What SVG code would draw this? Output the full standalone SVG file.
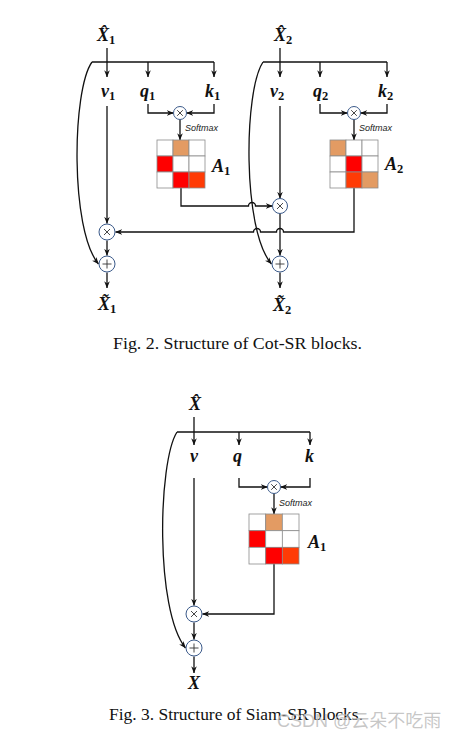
<svg xmlns="http://www.w3.org/2000/svg" width="459" height="740" viewBox="0 0 459 740">
<style>
.ln{fill:none;stroke:#111;stroke-width:1.3}
.op{fill:#fff;stroke:#3b5a8a;stroke-width:1}
.sym{fill:none;stroke:#333;stroke-width:0.9}
.cell{stroke:#8c8c8c;stroke-width:0.8}
.w{fill:#fff}.o{fill:#E39B63}.r{fill:#FF0000}.rr{fill:#FF3B05}
.m{font-family:"Liberation Serif","DejaVu Serif",serif;font-weight:bold;font-style:italic;font-size:18px;fill:#111}
.sub{font-style:normal;font-size:12.5px}
.sm{font-family:"Liberation Sans",sans-serif;font-style:italic;font-size:9px;fill:#222}
.cap{font-family:"Liberation Serif","Times New Roman",serif;font-size:16px;fill:#111}
.wm{font-family:"Liberation Sans","Noto Sans CJK SC",sans-serif;font-size:18px;fill:#bdbdbd;fill-opacity:0.85}
</style>
<defs>
<marker id="ah" viewBox="0 0 10 10" refX="9.5" refY="5" markerWidth="7" markerHeight="7" orient="auto" markerUnits="userSpaceOnUse">
<path d="M0,1 L10,5 L0,9 L3,5 z" fill="#111"/>
</marker>
</defs>

<g id="connectors">
<!-- block 1 -->
<path class="ln" d="M107,48 V77" marker-end="url(#ah)"/>
<path class="ln" d="M92,62 H214"/>
<path class="ln" d="M148,62 V77" marker-end="url(#ah)"/>
<path class="ln" d="M214,62 V77" marker-end="url(#ah)"/>
<path class="ln" d="M92,62 C72,90 70,230 98.5,264" marker-end="url(#ah)"/>
<path class="ln" d="M107,106 V223.5" marker-end="url(#ah)"/>
<path class="ln" d="M148,104 V113 H173.5" marker-end="url(#ah)"/>
<path class="ln" d="M214,104 V113 H186.5" marker-end="url(#ah)"/>
<path class="ln" d="M180,119.5 V140" marker-end="url(#ah)"/>
<path class="ln" d="M107,240.5 V255.5" marker-end="url(#ah)"/>
<path class="ln" d="M107,272.5 V288" marker-end="url(#ah)"/>
<path class="ln" d="M181,188 V206 H248.5 a3.5,3.5 0 0 1 7,0 H272.5" marker-end="url(#ah)"/>
<path class="ln" d="M354,188 V232 H283.5 a3.5,3.5 0 0 0 -7,0 H260.5 a3.5,3.5 0 0 0 -7,0 H115.5" marker-end="url(#ah)"/>
<!-- block 2 -->
<path class="ln" d="M280,48 V77" marker-end="url(#ah)"/>
<path class="ln" d="M263,62 H387"/>
<path class="ln" d="M320,62 V77" marker-end="url(#ah)"/>
<path class="ln" d="M387,62 V77" marker-end="url(#ah)"/>
<path class="ln" d="M263,62 C244,90 242,230 271.5,264" marker-end="url(#ah)"/>
<path class="ln" d="M280,106 V198.5" marker-end="url(#ah)"/>
<path class="ln" d="M320,104 V113 H347.5" marker-end="url(#ah)"/>
<path class="ln" d="M387,104 V113 H360.5" marker-end="url(#ah)"/>
<path class="ln" d="M354,119.5 V140" marker-end="url(#ah)"/>
<path class="ln" d="M280,213.5 V255.5" marker-end="url(#ah)"/>
<path class="ln" d="M280,272.5 V288" marker-end="url(#ah)"/>
<!-- block 3 -->
<path class="ln" d="M194,417 V445" marker-end="url(#ah)"/>
<path class="ln" d="M177,432 H310"/>
<path class="ln" d="M239,432 V445" marker-end="url(#ah)"/>
<path class="ln" d="M310,432 V445" marker-end="url(#ah)"/>
<path class="ln" d="M177,432 C158,462 155,610 185.5,648" marker-end="url(#ah)"/>
<path class="ln" d="M194,478 V605.5" marker-end="url(#ah)"/>
<path class="ln" d="M239,478 V487 H267.5" marker-end="url(#ah)"/>
<path class="ln" d="M310,478 V487 H280.5" marker-end="url(#ah)"/>
<path class="ln" d="M274,493.5 V514" marker-end="url(#ah)"/>
<path class="ln" d="M274,564 V614 H202.5" marker-end="url(#ah)"/>
<path class="ln" d="M194,622.5 V639.5" marker-end="url(#ah)"/>
<path class="ln" d="M194,656.5 V673" marker-end="url(#ah)"/>
</g>

<!-- Block 1 nodes -->
<g id="x1hat"><text class="m" x="97" y="41">X̂<tspan class="sub" dy="3">1</tspan></text></g>
<g id="v1"><text class="m" x="101" y="97">v<tspan class="sub" dy="3">1</tspan></text></g>
<g id="q1"><text class="m" x="140" y="97">q<tspan class="sub" dy="3">1</tspan></text></g>
<g id="k1"><text class="m" x="205" y="97">k<tspan class="sub" dy="3">1</tspan></text></g>
<g id="mul-qk1"><circle class="op" cx="180" cy="113" r="6.5"/><path class="sym" d="M177.2,110.2 L182.8,115.8 M182.8,110.2 L177.2,115.8"/></g>
<g id="softmax1"><text class="sm" x="185" y="131">Softmax</text></g>
<g id="A1">
<rect class="cell w" x="157" y="140" width="16" height="16"/><rect class="cell o" x="173" y="140" width="16" height="16"/><rect class="cell w" x="189" y="140" width="16" height="16"/>
<rect class="cell r" x="157" y="156" width="16" height="16"/><rect class="cell w" x="173" y="156" width="16" height="16"/><rect class="cell w" x="189" y="156" width="16" height="16"/>
<rect class="cell w" x="157" y="172" width="16" height="16"/><rect class="cell r" x="173" y="172" width="16" height="16"/><rect class="cell rr" x="189" y="172" width="16" height="16"/>
<text class="m" x="212" y="172">A<tspan class="sub" dy="3">1</tspan></text>
</g>
<g id="mul1"><circle class="op" cx="107" cy="232" r="8"/><path class="sym" d="M104,229 L110,235 M110,229 L104,235"/></g>
<g id="add1"><circle class="op" cx="107" cy="264" r="8"/><path class="sym" d="M102.5,264 H111.5 M107,259.5 V268.5"/></g>
<g id="x1tilde"><text class="m" x="98" y="310">X̃<tspan class="sub" dy="3">1</tspan></text></g>

<!-- Block 2 nodes -->
<g id="x2hat"><text class="m" x="274" y="41">X̂<tspan class="sub" dy="3">2</tspan></text></g>
<g id="v2"><text class="m" x="270" y="97">v<tspan class="sub" dy="3">2</tspan></text></g>
<g id="q2"><text class="m" x="313" y="97">q<tspan class="sub" dy="3">2</tspan></text></g>
<g id="k2"><text class="m" x="378" y="97">k<tspan class="sub" dy="3">2</tspan></text></g>
<g id="mul-qk2"><circle class="op" cx="354" cy="113" r="6.5"/><path class="sym" d="M351.2,110.2 L356.8,115.8 M356.8,110.2 L351.2,115.8"/></g>
<g id="softmax2"><text class="sm" x="359" y="131">Softmax</text></g>
<g id="A2">
<rect class="cell o" x="330" y="140" width="16" height="16"/><rect class="cell w" x="346" y="140" width="16" height="16"/><rect class="cell w" x="362" y="140" width="16" height="16"/>
<rect class="cell w" x="330" y="156" width="16" height="16"/><rect class="cell r" x="346" y="156" width="16" height="16"/><rect class="cell w" x="362" y="156" width="16" height="16"/>
<rect class="cell w" x="330" y="172" width="16" height="16"/><rect class="cell rr" x="346" y="172" width="16" height="16"/><rect class="cell o" x="362" y="172" width="16" height="16"/>
<text class="m" x="385" y="170">A<tspan class="sub" dy="3">2</tspan></text>
</g>
<g id="mul2"><circle class="op" cx="280" cy="206" r="7.5"/><path class="sym" d="M277,203 L283,209 M283,203 L277,209"/></g>
<g id="add2"><circle class="op" cx="280" cy="264" r="8"/><path class="sym" d="M275.5,264 H284.5 M280,259.5 V268.5"/></g>
<g id="x2tilde"><text class="m" x="273" y="311">X̃<tspan class="sub" dy="3">2</tspan></text></g>

<g id="caption2"><text class="cap" x="113" y="349" textLength="249" lengthAdjust="spacingAndGlyphs">Fig. 2. Structure of Cot-SR blocks.</text></g>

<!-- Block 3 nodes -->
<g id="xhat"><text class="m" x="189" y="410">X̂</text></g>
<g id="v"><text class="m" x="190" y="462">v</text></g>
<g id="q"><text class="m" x="233" y="462">q</text></g>
<g id="k"><text class="m" x="305" y="462">k</text></g>
<g id="mul-qk"><circle class="op" cx="274" cy="487" r="6.5"/><path class="sym" d="M271.2,484.2 L276.8,489.8 M276.8,484.2 L271.2,489.8"/></g>
<g id="softmax3"><text class="sm" x="279" y="506">Softmax</text></g>
<g id="A">
<rect class="cell w" x="249" y="514" width="16.7" height="16.7"/><rect class="cell o" x="265.7" y="514" width="16.7" height="16.7"/><rect class="cell w" x="282.3" y="514" width="16.7" height="16.7"/>
<rect class="cell r" x="249" y="530.7" width="16.7" height="16.7"/><rect class="cell w" x="265.7" y="530.7" width="16.7" height="16.7"/><rect class="cell w" x="282.3" y="530.7" width="16.7" height="16.7"/>
<rect class="cell w" x="249" y="547.3" width="16.7" height="16.7"/><rect class="cell r" x="265.7" y="547.3" width="16.7" height="16.7"/><rect class="cell rr" x="282.3" y="547.3" width="16.7" height="16.7"/>
<text class="m" x="308" y="548">A<tspan class="sub" dy="3">1</tspan></text>
</g>
<g id="mul3"><circle class="op" cx="194" cy="614" r="8"/><path class="sym" d="M191,611 L197,617 M197,611 L191,617"/></g>
<g id="add3"><circle class="op" cx="194" cy="648" r="8"/><path class="sym" d="M189.5,648 H198.5 M194,643.5 V652.5"/></g>
<g id="xout"><text class="m" x="188" y="689">X</text></g>

<g id="caption3"><text class="cap" x="109" y="720" textLength="254" lengthAdjust="spacingAndGlyphs">Fig. 3. Structure of Siam-SR blocks.</text></g>
<g id="watermark"><text class="wm" x="277" y="727">CSDN @云朵不吃雨</text></g>
</svg>
